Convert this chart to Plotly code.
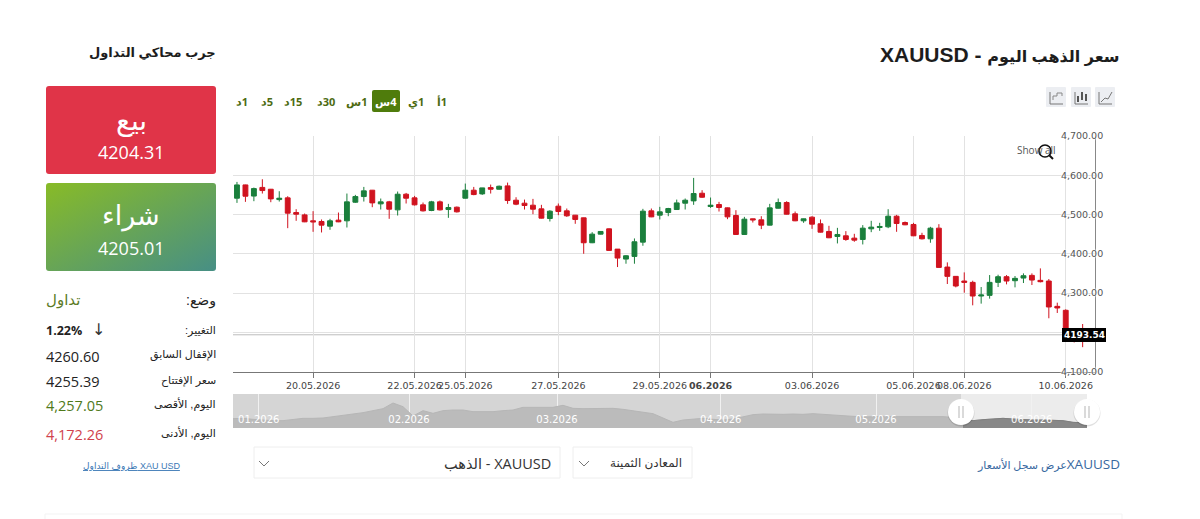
import plotly.graph_objects as go
from plotly.subplots import make_subplots

W = 1200
H = 519

# 4h candles
opens = [4541.5, 4575.4, 4547, 4569, 4564.4, 4538, 4542.4, 4505, 4499, 4483.9,
         4482.2, 4470.3, 4485.6, 4483.9, 4531.3, 4545.7, 4561.9, 4527.1, 4532.2, 4511.8,
         4551.7, 4542.4, 4524.6, 4510.2, 4532.2, 4512.7, 4518.6, 4541.5, 4561.9, 4552.5,
         4568.6, 4564.4, 4572.9, 4536.4, 4528.8, 4523.7, 4514.4, 4489.8, 4521.2, 4509.3,
         4498.3, 4491.5, 4428, 4450, 4463.5, 4411.8, 4386.4, 4393.2, 4429.6, 4509.3,
         4498.3, 4505, 4512.7, 4528.8, 4534.7, 4554.2, 4520.3, 4525.4, 4516.9, 4497.4,
         4449.1, 4489, 4486.4, 4472.9, 4516, 4530.5, 4501.7, 4483.9, 4493.2, 4476.3,
         4456.8, 4444, 4445.7, 4439.8, 4436.4, 4463.5, 4466.9, 4468.6, 4495.7, 4479.6,
         4474.6, 4446.6, 4438.1, 4465.2, 4366.1, 4342.4, 4330.5, 4327.1, 4292.3, 4294,
         4327.1, 4341.5, 4331.3, 4338.1, 4344.9, 4332.2, 4330.5, 4266, 4255.9, 4197, 4196]
highs = [4583, 4576, 4568.6, 4589.8, 4565, 4559.3, 4546.6, 4513.5, 4502.5, 4508.5,
         4487.3, 4489, 4505, 4553.4, 4550, 4570.3, 4562.5, 4540.7, 4534.7, 4558.5,
         4555, 4547.4, 4530.5, 4534.7, 4535.6, 4527.1, 4520.3, 4578.8, 4570.3, 4568,
         4576.3, 4573.7, 4581.3, 4544, 4538, 4539.8, 4524.6, 4511, 4528, 4515.2,
         4498.8, 4492, 4455, 4457, 4464.4, 4412, 4396.6, 4439, 4514.4, 4515.2,
         4519.5, 4516.9, 4538, 4540.7, 4593.2, 4561.9, 4543.2, 4532.2, 4517.8, 4511,
         4494, 4489.4, 4495.7, 4527.1, 4540.7, 4533.9, 4507.6, 4489.5, 4495.7, 4487.3,
         4471.2, 4466, 4457.6, 4450.8, 4472.9, 4483.9, 4478.8, 4513.5, 4499, 4482.2,
         4478.8, 4453.4, 4468.6, 4475.4, 4378, 4343.2, 4352.5, 4331.3, 4315.2, 4345.7,
         4346.6, 4345.7, 4343.2, 4350, 4350, 4362.7, 4335.6, 4275.4, 4258.4, 4204, 4221]
lows = [4529.6, 4532.2, 4533.9, 4553.4, 4531.3, 4533, 4465.2, 4483.9, 4480.5, 4455.9,
        4454.2, 4461, 4480.5, 4466.9, 4529.6, 4533, 4518.6, 4512.7, 4489, 4497.4,
        4528, 4522.9, 4507.6, 4508.5, 4510.2, 4491.5, 4505, 4540.7, 4549.1, 4550,
        4553.4, 4563.5, 4527.1, 4523.7, 4512.7, 4500.8, 4489.8, 4482.2, 4498.3, 4494,
        4476.3, 4400, 4427.1, 4449.1, 4407.6, 4366.1, 4374.6, 4374.6, 4420.3, 4493.2,
        4487.3, 4495.7, 4511.8, 4512.7, 4524.6, 4542.4, 4516.9, 4507.6, 4488.1, 4448.5,
        4448.5, 4479.6, 4462.7, 4472.4, 4515.2, 4500, 4483, 4478.8, 4463.5, 4454.2,
        4439.8, 4426.3, 4433, 4430.5, 4423.7, 4455, 4458.4, 4465.2, 4455.9, 4472.9,
        4444.9, 4436.4, 4428, 4364.6, 4322.9, 4314.4, 4300.8, 4268.6, 4272.9, 4285.6,
        4315.2, 4322, 4314.4, 4325.4, 4320.3, 4327.1, 4235.6, 4249.1, 4195, 4174, 4162]
closes = [4575.4, 4546.6, 4566, 4561, 4539.8, 4541.5, 4503.4, 4500.8, 4481.3, 4481.3,
          4472.9, 4483.9, 4481.3, 4532.2, 4545.7, 4560.2, 4529.6, 4532.2, 4513.5, 4551.7,
          4541.5, 4524.6, 4509.3, 4532.2, 4511.8, 4517.8, 4506.8, 4561.9, 4550.8, 4567.8,
          4564.4, 4572, 4535.6, 4526.3, 4522.9, 4513.5, 4490.7, 4508.5, 4507.6, 4496.6,
          4487.3, 4428, 4450, 4456.8, 4408.5, 4389, 4394.9, 4430.5, 4508.5, 4494,
          4506.8, 4515.2, 4529.6, 4536.4, 4553.4, 4544, 4523.7, 4517.8, 4494, 4449.1,
          4488.1, 4486.4, 4472.9, 4516.9, 4530.5, 4500.8, 4483.9, 4489, 4475.4, 4455,
          4440.7, 4449.1, 4436.4, 4434.7, 4465.2, 4467.8, 4469.5, 4495.7, 4477.1, 4473.7,
          4445.7, 4438.1, 4465.2, 4365.2, 4342.4, 4317.8, 4327.1, 4292.3, 4294.9, 4327.1,
          4341.5, 4330.5, 4337.3, 4344, 4333, 4328.8, 4264.4, 4261.8, 4197.4, 4186, 4193.54]
last_price = 4193.54

x_tick_pos = [9, 21, 27, 38, 50, 56, 68, 80, 86, 98]
x_tick_text = ['20.05.2026', '22.05.2026', '25.05.2026', '27.05.2026', '29.05.2026',
               '<b>06.2026</b>', '03.06.2026', '05.06.2026', '08.06.2026', '10.06.2026']
y_ticks = [4100, 4200, 4300, 4400, 4500, 4600, 4700]
y_tick_text = ['4,100.00', '', '4,300.00', '4,400.00', '4,500.00', '4,600.00', '4,700.00']

# overview strip under the chart
nav_close = [4461, 4480, 4423, 4365, 4346, 4346, 4404, 4480, 4480, 4500,
             4576, 4672, 4729, 4806, 4921, 5036, 5362, 5151, 4615, 4921,
             4768, 4921, 4959, 4959, 4864, 4844, 4864, 4921, 4959, 5113,
             5113, 5074, 5113, 5228, 5055, 5036, 5036, 5055, 5055, 4998,
             4921, 4864, 4749, 4500, 4250, 4385, 4442, 4480, 4423, 4385,
             4442, 4576, 4691, 4729, 4710, 4710, 4729, 4710, 4749, 4710,
             4672, 4634, 4595, 4557, 4576, 4576, 4615, 4615, 4615, 4615,
             4576, 4576, 4538, 4423, 4346, 4404, 4442, 4480, 4442, 4404,
             4385, 4385, 4385, 4346, 4250, 4212, 4193]
nav_month_pos = [2.57, 17.6, 32.4, 48.77, 64.3, 79.87]
nav_month_text = ['01.2026', '02.2026', '03.2026', '04.2026', '05.2026', '06.2026']
nav_select_from = 73

timeframes = ['1د', '5د', '15د', '30د', '1س', '4س', '1ي', '1أ']
selected_tf = '4س'

stat_labels = ['التغيير:', 'الإقفال السابق', 'سعر الإفتتاح', 'اليوم, الأقصى', 'اليوم, الأدنى']
stat_values = ['1.22%', '4260.60', '4255.39', '4,257.05', '4,172.26']

UP = '#1a7f3c'
DOWN = '#d0131f'
ARABIC = 'Liberation Sans, DejaVu Sans'
NUM = 'Open Sans, DejaVu Sans'
AXIS = 'DejaVu Sans'


def fx(x):
    return x / W


def fy(y):
    return 1 - y / H


def rtl(s):
    return '\u202b' + s + '\u202c'


def sized(s, size):
    return f'<span style="font-size:{size}px">{s}</span>'


def text(x, y, s, size, color='#222222', anchor='left', family=ARABIC, weight='normal'):
    fig.add_annotation(x=fx(x), y=fy(y), xref='paper', yref='paper', text=s, showarrow=False,
                       xanchor=anchor, yanchor='middle', borderpad=0, borderwidth=0,
                       font=dict(size=size, color=color, family=family, weight=weight))


def rect(x0, y0, x1, y1, fill=None, line=None, layer='above'):
    fig.add_shape(type='rect', xref='paper', yref='paper', x0=fx(x0), x1=fx(x1), y0=fy(y0), y1=fy(y1),
                  fillcolor=fill, line=dict(color=line, width=1 if line else 0), layer=layer)


def round_rect(x0, y0, x1, y1, r, fill):
    pts = [('M', x0 + r, y0), ('L', x1 - r, y0), ('Q', x1, y0, x1, y0 + r), ('L', x1, y1 - r),
           ('Q', x1, y1, x1 - r, y1), ('L', x0 + r, y1), ('Q', x0, y1, x0, y1 - r),
           ('L', x0, y0 + r), ('Q', x0, y0, x0 + r, y0)]
    d = ''
    for p in pts:
        d += p[0]
        vals = p[1:]
        d += ' '.join(f'{fx(vals[i])},{fy(vals[i + 1])}' for i in range(0, len(vals), 2)) + ' '
    fig.add_shape(type='path', xref='paper', yref='paper', path=d + 'Z', fillcolor=fill, line=dict(width=0))


def polyline(points, color, width=1):
    d = 'M' + ' L'.join(f'{fx(x)},{fy(y)}' for x, y in points)
    fig.add_shape(type='path', xref='paper', yref='paper', path=d, line=dict(color=color, width=width))


def circle(cx, cy, r, fill, line=None, width=1, opacity=1):
    fig.add_shape(type='circle', xref='paper', yref='paper', x0=fx(cx - r), x1=fx(cx + r),
                  y0=fy(cy + r), y1=fy(cy - r), fillcolor=fill, opacity=opacity,
                  line=dict(color=line, width=width if line else 0))


fig = make_subplots(rows=2, cols=1)

fig.add_trace(go.Candlestick(x=list(range(len(opens))), open=opens, high=highs, low=lows, close=closes,
                             increasing=dict(line=dict(color=UP, width=1), fillcolor=UP),
                             decreasing=dict(line=dict(color=DOWN, width=1), fillcolor=DOWN),
                             whiskerwidth=0, showlegend=False), row=1, col=1)

nav_x = list(range(len(nav_close)))
fig.add_trace(go.Scatter(x=nav_x, y=nav_close, mode='lines', fill='tozeroy', fillcolor='#bbbbbb',
                         line=dict(color='#b6b6b6', width=1), showlegend=False), row=2, col=1)
fig.add_trace(go.Scatter(x=nav_x[nav_select_from:], y=nav_close[nav_select_from:], mode='lines', fill='tozeroy',
                         fillcolor='#888888', line=dict(color='#7e7e7e', width=1), showlegend=False), row=2, col=1)

fig.update_layout(width=W, height=H, margin=dict(l=0, r=0, t=0, b=0, autoexpand=False), paper_bgcolor='white',
                  plot_bgcolor='white', boxgap=0.18, showlegend=False, dragmode=False)
fig.update_xaxes(domain=[fx(233), fx(1095)], range=[-0.47, 101.46], rangeslider_visible=False,
                 tickvals=x_tick_pos, ticktext=x_tick_text, ticks='outside', ticklen=5, tickcolor='#777777',
                 showline=True, linecolor='#777777', gridcolor='#e2e2e2', zeroline=False, tickangle=0,
                 tickfont=dict(family=AXIS, size=9.5, color='#444444'), row=1, col=1)
fig.update_yaxes(domain=[fy(371.5), fy(136)], range=[4100, 4700], side='right', tickvals=y_ticks,
                 ticktext=y_tick_text, showline=True, linecolor='#888888', gridcolor='#e2e2e2', zeroline=False,
                 ticklabelstandoff=-37, ticks='',
                 tickfont=dict(family=AXIS, size=9.5, color='#555555',
                               shadow='0 0 2px white, 0 0 2px white, 0 0 2px white'), row=1, col=1)
fig.update_xaxes(domain=[fx(233), fx(1087)], range=[0, 85.4], tickvals=nav_month_pos, ticktext=nav_month_text,
                 ticklabelposition='inside', ticks='', gridcolor='#f1f1f1', showline=False, zeroline=False,
                 tickangle=0, tickfont=dict(family=AXIS, size=10, color='white'), row=2, col=1)
fig.update_yaxes(domain=[fy(428), fy(394)], range=[3925, 5879], showticklabels=False, showgrid=False,
                 zeroline=False, row=2, col=1)

# overview backgrounds
rect(233, 394, 961, 428, fill='#d5d5d5', layer='below')
rect(961, 394, 1087, 428, fill='#ececec', layer='below')

# current price line and flag
fig.add_shape(type='line', xref='paper', yref='y', x0=fx(233), x1=fx(1095), y0=last_price, y1=last_price,
              line=dict(color='#bdbdbd', width=1), layer='below')
rect(1062, 328, 1106, 342, fill='black')
text(1084, 335, f'{last_price:.2f}', 9, 'white', 'center', 'DejaVu Sans', 'bold')

# overview handles
for hx in [961, 1087]:
    circle(hx, 413, 13.5, '#000000', opacity=0.12)
    circle(hx, 412, 13, 'white')
    polyline([(hx - 2, 406), (hx - 2, 418)], '#b5b5b5')
    polyline([(hx + 2, 406), (hx + 2, 418)], '#b5b5b5')

# show all + cursor
text(1017, 150, 'Show all', 10, '#555555', 'left', NUM)
circle(1045, 151, 6, None, '#111111', 1.6)
polyline([(1049.5, 155.5), (1053, 159)], '#111111', 2)

# headers
text(1120, 55, 'XAUUSD - ' + sized('سعر الذهب اليوم', 16), 21, '#1d1d1d', 'right', weight='bold')
text(216, 52, 'جرب محاكي التداول', 13, '#1d1d1d', 'right', weight='bold')

# timeframe buttons
tf_x = [242, 267, 293, 326, 356, 386, 416, 442]
round_rect(372, 90, 400, 112, 2, '#4f7c0c')
for name, tx in zip(timeframes, tf_x):
    color = 'white' if name == selected_tf else '#4d6b12'
    text(tx, 101, rtl(name), 11, color, 'center', NUM, 'bold')

# chart type icons
for bx in [1046, 1071, 1095]:
    round_rect(bx, 87, bx + 20, 107, 1, '#eceef2')
    polyline([(bx + 4, 92), (bx + 4, 104), (bx + 17, 104)], '#777777')
polyline([(1053, 100), (1053, 96), (1057, 96), (1057, 93), (1062, 93), (1062, 96)], '#888888')
for ix, y0, y1 in [(1078, 96, 102), (1082, 92, 100), (1086, 94, 101)]:
    polyline([(ix, y0), (ix, y1)], '#555555', 2)
polyline([(1101, 102), (1105, 98), (1108, 99), (1112, 92)], '#777777')

# sell / buy
round_rect(46, 86, 216, 174, 3, '#e03448')
text(131, 121, 'بيع', 28, 'white', 'center')
text(131, 152, '4204.31', 18, 'white', 'center', NUM)
gradient = ("data:image/svg+xml;utf8,<svg xmlns='http://www.w3.org/2000/svg' width='170' height='88'>"
            "<linearGradient id='g' x1='0' y1='0' x2='1' y2='1'><stop offset='0' stop-color='%2388bb27'/>"
            "<stop offset='1' stop-color='%23478f85'/></linearGradient>"
            "<rect width='170' height='88' rx='3' fill='url(%23g)'/></svg>")
fig.add_layout_image(source=gradient, xref='paper', yref='paper', x=fx(46), y=fy(183), sizex=fx(170), sizey=88 / H,
                     xanchor='left', yanchor='top', sizing='stretch', layer='below')
text(131, 216, 'شراء', 27, 'white', 'center')
text(131, 248, '4205.01', 18, 'white', 'center', NUM)

# stats
text(216, 300, rtl('وضع:'), 14, '#222222', 'right')
text(46, 300, 'تداول', 15, '#5b7a25', 'left')
stat_y = [330, 355, 380, 404, 433]
stat_colors = ['#222222', '#222222', '#222222', '#4f7a1a', '#d0424c']
for label, value, sy, col in zip(stat_labels, stat_values, stat_y, stat_colors):
    text(216, sy, rtl(label), 11, '#222222', 'right')
    if value.endswith('%'):
        text(46, sy, value, 12.5, col, 'left', NUM, 'bold')
    else:
        text(46, sy + 1, value, 14.5, col, 'left', NUM)
text(98, 329, '↓', 16, '#333333', 'center', 'DejaVu Sans')
text(131, 466, '<u>ظروف التداول XAU USD</u>', 9, '#3a78b5', 'center')

# selects
rect(254, 447, 560, 478, line='#eeeeee')
rect(573, 447, 692, 478, line='#eeeeee')
text(551, 463, 'الذهب - XAUUSD', 14.5, '#333333', 'right', NUM)
text(682, 463, 'المعادن الثمينة', 12, '#333333', 'right')
for cx in [264, 584]:
    polyline([(cx - 5, 461), (cx, 466), (cx + 5, 461)], '#777777')
text(1120, 464, sized('عرض سجل الأسعار', 11) + 'XAUUSD', 13.5, '#38689f', 'right', NUM)

# box starting below the fold
polyline([(45, 519), (45, 514), (1122, 514), (1122, 519)], '#f3f3f3')

fig.write_html('out.html', config=dict(displayModeBar=False),
               post_script="document.body.style.margin='0';document.body.style.overflow='hidden';")
